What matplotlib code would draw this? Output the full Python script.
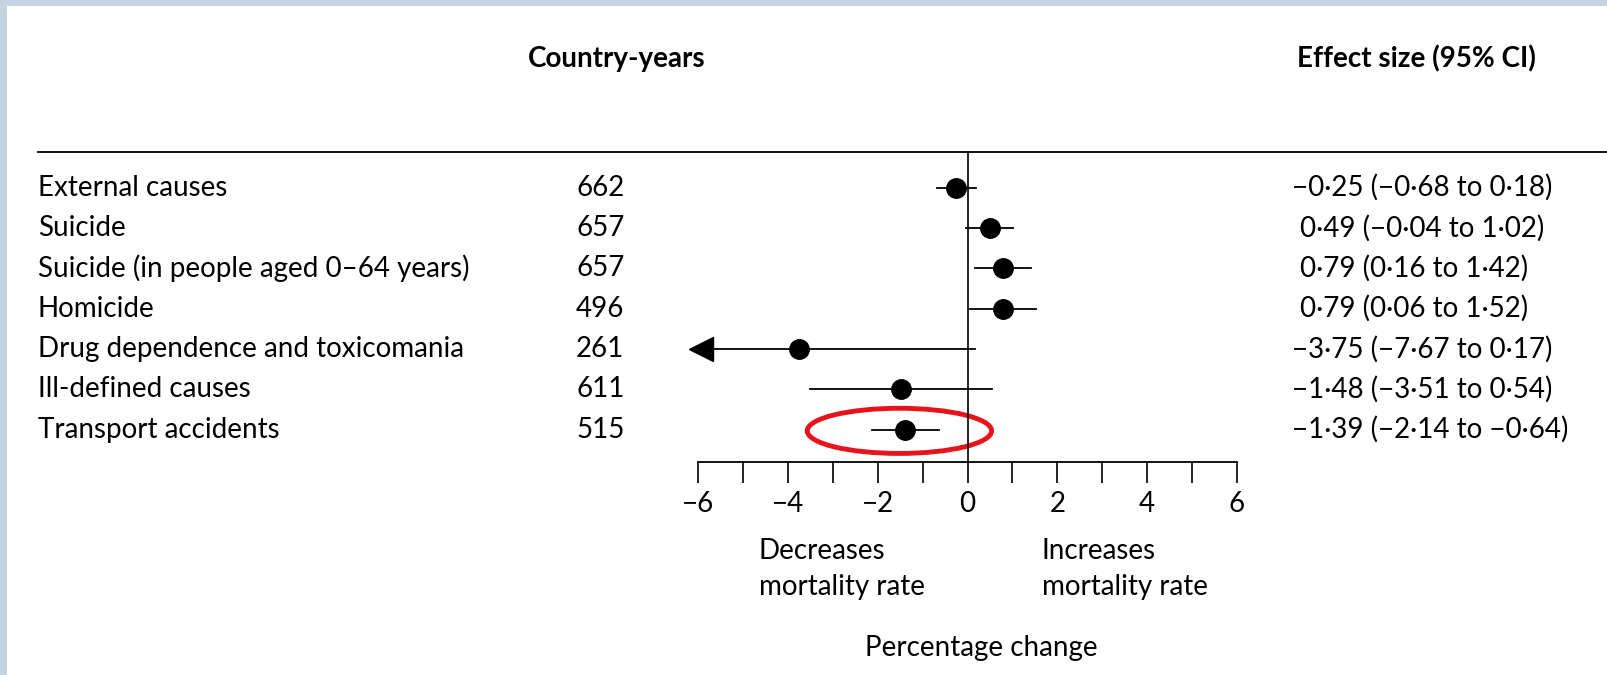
import matplotlib
matplotlib.use("Agg")
import matplotlib.pyplot as plt
from matplotlib.patches import Ellipse
from matplotlib.lines import Line2D
from matplotlib.transforms import blended_transform_factory

plt.rcParams['font.family'] = ['Lato', 'DejaVu Sans']
FS = 20

causes = ["External causes", "Suicide", "Suicide (in people aged 0\u201364 years)",
          "Homicide", "Drug dependence and toxicomania", "Ill-defined causes",
          "Transport accidents"]
country_years = [662, 657, 657, 496, 261, 611, 515]
effect = [-0.25, 0.49, 0.79, 0.79, -3.75, -1.48, -1.39]
ci_low = [-0.68, -0.04, 0.16, 0.06, -7.67, -3.51, -2.14]
ci_high = [0.18, 1.02, 1.42, 1.52, 0.17, 0.54, -0.64]
ticks_major = [-6, -4, -2, 0, 2, 4, 6]
ticks_minor = [-5, -3, -1, 1, 3, 5]

W, H = 1608, 675
fig = plt.figure(figsize=(W / 100, H / 100), dpi=100)
fig.patch.set_facecolor("white")

# light frame at top and left
fig.add_artist(plt.Rectangle((0, 1 - 6 / H), 1, 6 / H, transform=fig.transFigure,
                             color="#c5d3e0", lw=0))
fig.add_artist(plt.Rectangle((0, 0), 7 / W, 1, transform=fig.transFigure,
                             color="#c5d3e0", lw=0))

x_lo, x_hi = 698.4, 1236.8
y_top, y_axis = 152, 461.5
ax = fig.add_axes([x_lo / W, 1 - y_axis / H, (x_hi - x_lo) / W, (y_axis - y_top) / H])
ax.set_xlim(-6, 6)
ax.set_ylim(6.79, -0.885)

for s in ["top", "right", "left"]:
    ax.spines[s].set_visible(False)
ax.spines["bottom"].set_linewidth(1.3)
ax.set_yticks([])
ax.set_xticks(ticks_major)
ax.set_xticks(ticks_minor, minor=True)
ax.set_xticklabels([str(t).replace("-", "\u2212") for t in ticks_major], fontsize=FS)
ax.tick_params(axis="x", which="both", direction="out", length=15, width=1.2, pad=6)
ax.patch.set_alpha(0)

ax.axvline(0, color="black", lw=1.2)

xmin = ax.get_xlim()[0]
for i in range(len(causes)):
    lo = ci_low[i]
    if lo < xmin:
        # CI runs off the scale: arrow at the left end
        ax.plot([xmin + 0.05, ci_high[i]], [i, i], color="black", lw=1.3, clip_on=False)
        ax.plot(xmin + 0.05, i, marker="<", color="black", markersize=17, clip_on=False)
    else:
        ax.plot([lo, ci_high[i]], [i, i], color="black", lw=1.3, clip_on=False)
    ax.plot(effect[i], i, "o", color="black", markersize=14, clip_on=False)

ax.add_patch(Ellipse((-1.52, 6.03), 4.11, 1.12, fill=False, edgecolor="#e8141c",
                     lw=3.5, clip_on=False))

# top rule
fig.add_artist(Line2D([38 / W, 1], [1 - y_top / H, 1 - y_top / H],
                      transform=fig.transFigure, color="black", lw=1.3))

tr = blended_transform_factory(fig.transFigure, ax.transData)
for i in range(len(causes)):
    ax.text(38 / W, i, causes[i], transform=tr, fontsize=FS, va="center", ha="left")
    ax.text(624.5 / W, i, str(country_years[i]), transform=tr, fontsize=FS,
            va="center", ha="right")
    txt = "%.2f (%.2f to %.2f)" % (effect[i], ci_low[i], ci_high[i])
    txt = txt.replace(".", "\u00b7").replace("-", "\u2212")
    x0 = 1292 if effect[i] < 0 else 1300
    ax.text(x0 / W, i, txt, transform=tr, fontsize=FS, va="center", ha="left")

fig.text(617 / W, 1 - 58.5 / H, "Country-years", fontsize=FS, fontweight="bold",
         ha="center", va="center")
fig.text(1416 / W, 1 - 58.5 / H, "Effect size (95% CI)", fontsize=FS, fontweight="bold",
         ha="center", va="center")
fig.text(759 / W, 1 - 569 / H, "Decreases\nmortality rate", fontsize=FS,
         ha="left", va="center", linespacing=1.45)
fig.text(1042 / W, 1 - 569 / H, "Increases\nmortality rate", fontsize=FS,
         ha="left", va="center", linespacing=1.45)
fig.text(981 / W, 1 - 648 / H, "Percentage change", fontsize=FS, ha="center", va="center")

fig.savefig("out.png", dpi=100)
